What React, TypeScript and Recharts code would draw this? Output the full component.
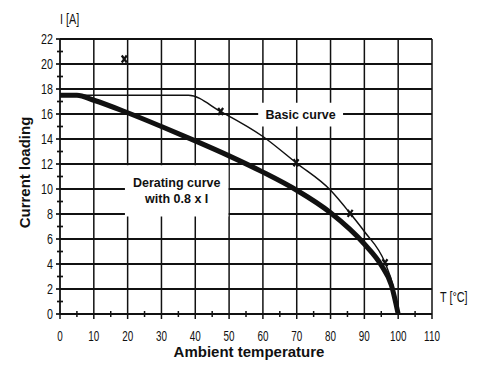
import React from "react";
import {
  ComposedChart,
  Line,
  Scatter,
  XAxis,
  YAxis,
  CartesianGrid,
  ReferenceArea,
} from "recharts";

// ---- data ----
const basicCurve = [
  { t: 0, i: 17.5 },
  { t: 38, i: 17.5 },
  { t: 47.5, i: 16.2 },
  { t: 60, i: 14.2 },
  { t: 69.8, i: 12.1 },
  { t: 80, i: 9.9 },
  { t: 85.8, i: 8.05 },
  { t: 90, i: 6.6 },
  { t: 96.1, i: 4.1 },
  { t: 98.5, i: 2.2 },
  { t: 100, i: 0 },
];

const deratingCurve = [
  { t: 0, i: 17.5 },
  { t: 5, i: 17.5 },
  { t: 10, i: 17.1 },
  { t: 20, i: 16.1 },
  { t: 30, i: 15.0 },
  { t: 40, i: 13.85 },
  { t: 50, i: 12.65 },
  { t: 60, i: 11.35 },
  { t: 70, i: 9.9 },
  { t: 80, i: 8.1 },
  { t: 90, i: 5.6 },
  { t: 95, i: 3.9 },
  { t: 98, i: 2.3 },
  { t: 100, i: 0 },
];

const markers = [
  { t: 19, i: 20.4 },
  { t: 47.5, i: 16.2 },
  { t: 69.8, i: 12.1 },
  { t: 85.8, i: 8.05 },
  { t: 96.1, i: 4.1 },
];

const xTicks = [0, 5, 10, 15, 20, 25, 30, 35, 40, 45, 50, 55, 60, 65, 70, 75, 80, 85, 90, 95, 100, 105, 110];
const xMajor = [0, 10, 20, 30, 40, 50, 60, 70, 80, 90, 100, 110];
const yTicks = [0, 1, 2, 3, 4, 5, 6, 7, 8, 9, 10, 11, 12, 13, 14, 15, 16, 17, 18, 19, 20, 21, 22];
const yMajor = [0, 2, 4, 6, 8, 10, 12, 14, 16, 18, 20, 22];
const vGrid = [10, 20, 30, 40, 50, 60, 70, 80, 90, 100, 110];
const hGrid = [2, 4, 6, 8, 10, 12, 14, 16, 18, 20, 22];

const basicLabel = ["Basic curve"];
const deratingLabel = ["Derating curve", "with 0.8 x I"];

const FONT = '"Liberation Sans", Arial, sans-serif';
const INK = "#111";

const XTick = (props: any) => {
  const { x, y, payload } = props;
  const v = payload.value;
  const major = xMajor.includes(v);
  return (
    <g>
      {major ? (
        <line x1={x} y1={y} x2={x} y2={y + 5} stroke={INK} strokeWidth={1.5} />
      ) : (
        <line x1={x} y1={y - 3} x2={x} y2={y + 3} stroke={INK} strokeWidth={1.5} />
      )}
      {major && (
        <text
          transform={`translate(${x},${y + 22}) scale(0.66,1)`}
          textAnchor="middle"
          dy="0.35em"
          fontSize={15}
          fontFamily={FONT}
          fill={INK}
        >
          {v}
        </text>
      )}
    </g>
  );
};

const YTick = (props: any) => {
  const { x, y, payload } = props;
  const v = payload.value;
  const major = yMajor.includes(v);
  return (
    <g>
      {major ? (
        <line x1={x - 4} y1={y} x2={x} y2={y} stroke={INK} strokeWidth={1.7} />
      ) : (
        <line x1={x - 3} y1={y} x2={x + 3} y2={y} stroke={INK} strokeWidth={1.7} />
      )}
      {major && (
        <text
          transform={`translate(${x - 7},${y}) scale(0.74,1)`}
          textAnchor="end"
          dy="0.35em"
          fontSize={14.5}
          fontFamily={FONT}
          fill={INK}
        >
          {v}
        </text>
      )}
    </g>
  );
};

const XMark = (props: any) => {
  const { cx, cy } = props;
  if (cx == null || cy == null) return null;
  return (
    <path
      d={`M${cx - 2.5},${cy - 3.5}L${cx + 2.5},${cy + 3.5}M${cx + 2.5},${cy - 3.5}L${cx - 2.5},${cy + 3.5}`}
      stroke={INK}
      strokeWidth={2.2}
      fill="none"
    />
  );
};

const boxLabel = (lines: string[]) => (props: any) => {
  const vb = props.viewBox || {};
  const cx = vb.x + vb.width / 2;
  const cy = vb.y + vb.height / 2;
  const lh = 16;
  const start = cy - ((lines.length - 1) * lh) / 2;
  return (
    <g>
      {lines.map((s, k) => (
        <text
          key={k}
          x={cx}
          y={start + k * lh}
          dy="0.35em"
          textAnchor="middle"
          fontSize={12.5}
          fontWeight="bold"
          fontFamily={FONT}
          fill={INK}
        >
          {s}
        </text>
      ))}
    </g>
  );
};

const yAxisLabels = (props: any) => {
  const vb = props.viewBox || {};
  return (
    <g>
      <text
        transform={`translate(${vb.x + 25},${vb.y + vb.height / 2 - 4}) rotate(-90)`}
        textAnchor="middle"
        dy="0.35em"
        fontSize={15}
        fontWeight="bold"
        fontFamily={FONT}
        fill={INK}
      >
        Current loading
      </text>
      <text
        transform={`translate(${vb.x + vb.width},${vb.y - 20}) scale(0.72,1)`}
        textAnchor="start"
        dy="0.35em"
        fontSize={15}
        fontFamily={FONT}
        fill={INK}
      >
        I [A]
      </text>
    </g>
  );
};

const xAxisLabels = (props: any) => {
  const vb = props.viewBox || {};
  return (
    <g>
      <text
        x={vb.x + vb.width / 2 + 3}
        y={vb.y + 38}
        dy="0.35em"
        textAnchor="middle"
        fontSize={15}
        fontWeight="bold"
        fontFamily={FONT}
        fill={INK}
      >
        Ambient temperature
      </text>
      <text
        transform={`translate(${vb.x + vb.width + 8},${vb.y - 17}) scale(0.72,1)`}
        textAnchor="start"
        dy="0.35em"
        fontSize={15}
        fontFamily={FONT}
        fill={INK}
      >
        T [°C]
      </text>
    </g>
  );
};

export default function App() {
  return (
    <div style={{ position: "absolute", left: 0, top: 0, width: 485, height: 365, background: "#fff" }}>
      <ComposedChart
        width={485}
        height={365}
        margin={{ top: 39, right: 53, bottom: 21, left: 0 }}
      >
        <CartesianGrid
          vertical={false}
          horizontalValues={hGrid}
          stroke={INK}
          strokeWidth={2.2}
        />
        <CartesianGrid
          horizontal={false}
          verticalValues={vGrid}
          stroke={INK}
          strokeWidth={1.5}
        />
        <XAxis
          type="number"
          dataKey="t"
          domain={[0, 110]}
          ticks={xTicks}
          interval={0}
          height={30}
          tickSize={0}
          tickMargin={0}
          tickLine={false}
          axisLine={{ stroke: INK, strokeWidth: 1.8 }}
          tick={<XTick />}
          allowDataOverflow
          label={{ content: xAxisLabels }}
        />
        <YAxis
          type="number"
          dataKey="i"
          domain={[0, 22]}
          ticks={yTicks}
          interval={0}
          width={60}
          tickSize={0}
          tickMargin={0}
          tickLine={false}
          axisLine={{ stroke: INK, strokeWidth: 1.8 }}
          tick={<YTick />}
          allowDataOverflow
          label={{ content: yAxisLabels }}
        />
        <ReferenceArea
          x1={19.2}
          x2={49.8}
          y1={7.8}
          y2={11.9}
          fill="#fff"
          fillOpacity={1}
          stroke="none"
          ifOverflow="visible"
          label={{ content: boxLabel(deratingLabel) }}
        />
        <ReferenceArea
          x1={58.6}
          x2={83.7}
          y1={15.0}
          y2={16.9}
          fill="#fff"
          fillOpacity={1}
          stroke="none"
          ifOverflow="visible"
          label={{ content: boxLabel(basicLabel) }}
        />
        <Line
          data={basicCurve}
          dataKey="i"
          type="monotone"
          stroke={INK}
          strokeWidth={1.5}
          dot={false}
          activeDot={false}
          isAnimationActive={false}
        />
        <Line
          data={deratingCurve}
          dataKey="i"
          type="monotone"
          stroke={INK}
          strokeWidth={5}
          strokeLinejoin="round"
          dot={false}
          activeDot={false}
          isAnimationActive={false}
        />
        <Scatter
          data={markers}
          dataKey="i"
          shape={<XMark />}
          isAnimationActive={false}
        />
      </ComposedChart>
    </div>
  );
}
